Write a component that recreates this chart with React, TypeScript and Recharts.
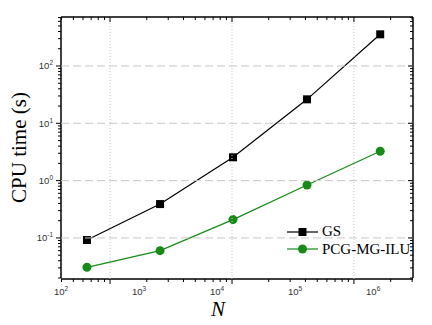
import { LineChart, Line, XAxis, YAxis, Legend, Label } from "recharts";

const nValues = [215, 1860, 16000, 142000, 1230000];
const gsTimes = [0.092, 0.39, 2.55, 26.2, 357];
const pcgTimes = [0.0307, 0.06, 0.209, 0.84, 3.25];

const xLabelTicks = [1e2, 1e3, 1e4, 1e5, 1e6];
const xMarks = [
	400, 500, 600, 700, 800, 900, 1000,
	2000, 3000, 4000, 5000, 6000, 7000, 8000, 9000, 10000,
	20000, 30000, 40000, 50000, 60000, 70000, 80000, 90000, 100000,
	200000, 300000
];
const yMarks = [
	0.02, 0.03, 0.04, 0.05, 0.06, 0.07, 0.08, 0.09, 0.1,
	0.2, 0.3, 0.4, 0.5, 0.6, 0.7, 0.8, 0.9, 1,
	2, 3, 4, 5, 6, 7, 8, 9, 10,
	20, 30, 40, 50, 60, 70, 80, 90, 100,
	200, 300, 400, 500, 600, 700
];

const data = nValues.map((n, i) => ({ n, gs: gsTimes[i], pcg: pcgTimes[i] }));

const series = [
	{ key: "gs", name: "GS", color: "#000000", shape: "square" },
	{ key: "pcg", name: "PCG-MG-ILU", color: "#178a17", shape: "circle" }
];

const W = 432;
const H = 325;
const M = { top: 16, right: 18, bottom: 45, left: 60 };
const PLOT_W = W - M.left - M.right - 2;
const PLOT_H = H - M.top - M.bottom - 3;
const GRID = "#c8c8c8";

const isDecade = (v: number) => Math.abs(Math.log10(v) - Math.round(Math.log10(v))) < 1e-6;
const expOf = (v: number) => Math.round(Math.log10(v));

function Marker({ cx, cy, shape, color }: any) {
	if (shape === "square") return <rect x={cx - 4} y={cy - 4} width={8} height={8} fill={color} />;
	return <circle cx={cx} cy={cy} r={4.5} fill={color} />;
}

function Pow10({ x, y, e, anchor }: any) {
	return (
		<text x={x} y={y} textAnchor={anchor} fontFamily="Liberation Sans" fontSize={9.5} fill="#333">
			10<tspan dy={-4} fontSize={6.5}>{e}</tspan>
		</text>
	);
}

function XLabelTick({ x, y, payload }: any) {
	return <Pow10 x={x} y={y + 17} e={expOf(payload.value)} anchor="middle" />;
}

function XMarkTick({ x, y, payload }: any) {
	if (!isDecade(payload.value)) return <line x1={x} y1={y} x2={x} y2={y + 3} stroke="#000" />;
	return (
		<g>
			<line x1={x} y1={y} x2={x} y2={y - PLOT_H} stroke={GRID} strokeDasharray="1 2" />
			<line x1={x} y1={y} x2={x} y2={y + 5} stroke="#000" />
		</g>
	);
}

function YTick({ x, y, payload }: any) {
	if (!isDecade(payload.value)) return <line x1={x} y1={y} x2={x - 3} y2={y} stroke="#000" />;
	return (
		<g>
			<line x1={x} y1={y} x2={x + PLOT_W} y2={y} stroke={GRID} strokeDasharray="8 4" />
			<line x1={x} y1={y} x2={x - 5} y2={y} stroke="#000" />
			<Pow10 x={x - 8} y={y + 3.5} e={expOf(payload.value)} anchor="end" />
		</g>
	);
}

const mark = (dx: number, dy: number) => ({ x, y, payload }: any) => {
	const len = isDecade(payload.value) ? 5 : 3;
	return <line x1={x} y1={y} x2={x + dx * len} y2={y + dy * len} stroke="#000" />;
};

function LegendBox() {
	return (
		<div style={{ fontFamily: "Liberation Serif", fontSize: 15, color: "#000" }}>
			{series.map((s) => (
				<div key={s.key} style={{ display: "flex", alignItems: "center", height: 17.5 }}>
					<svg width={32} height={12}>
						<line x1={0} y1={6} x2={31} y2={6} stroke={s.color} strokeWidth={1.2} />
						<Marker cx={15.5} cy={6} shape={s.shape} color={s.color} />
					</svg>
					<span style={{ marginLeft: 3 }}>{s.name}</span>
				</div>
			))}
		</div>
	);
}

const frame = { stroke: "#000", strokeWidth: 1.5 };

export default function App() {
	return (
		<div style={{ position: "absolute", left: 0, top: 0, background: "#fff" }}>
			<LineChart width={W} height={H} data={data} margin={M}>
				<XAxis xAxisId="t" dataKey="n" type="number" scale="log" domain={[396, 305000]} allowDataOverflow
					ticks={xMarks} interval={0} height={1} tickSize={0} tickMargin={0}
					tickLine={false} axisLine={frame} tick={XMarkTick} />
				<XAxis xAxisId="n" dataKey="n" type="number" scale="log" domain={[100, Math.pow(10, 6.51)]}
					allowDataOverflow ticks={xLabelTicks} interval={0} height={1} tickSize={0} tickMargin={0}
					tickLine={false} axisLine={false} tick={XLabelTick}>
					<Label content={({ viewBox }: any) => (
						<text x={viewBox.x + viewBox.width / 2 - 19} y={viewBox.y + 38} textAnchor="middle"
							fontFamily="Liberation Serif" fontStyle="italic" fontSize={21}>N</text>
					)} />
				</XAxis>
				<XAxis xAxisId="top" dataKey="n" orientation="top" type="number" scale="log" domain={[396, 305000]} allowDataOverflow
					ticks={xMarks} interval={0} height={1} tickSize={0} tickMargin={0}
					tickLine={false} axisLine={frame} tick={mark(0, 1)} />
				<YAxis yAxisId="y" type="number" scale="log" domain={[0.02, 716]} allowDataOverflow
					ticks={yMarks} interval={0} width={1} tickSize={0} tickMargin={0}
					tickLine={false} axisLine={frame} tick={YTick}>
					<Label value="CPU time (s)" angle={-90} position="left" offset={41}
						style={{ textAnchor: "middle", fontFamily: "Liberation Serif", fontSize: 21, fill: "#000" }} />
				</YAxis>
				<YAxis yAxisId="r" orientation="right" type="number" scale="log" domain={[0.02, 716]} allowDataOverflow
					ticks={yMarks} interval={0} width={1} tickSize={0} tickMargin={0}
					tickLine={false} axisLine={frame} tick={mark(-1, 0)} />

				{/* invisible series so the frame axes get a scale */}
				<Line xAxisId="t" yAxisId="r" dataKey="gs" stroke="none" dot={false} activeDot={false}
					legendType="none" isAnimationActive={false} />
				<Line xAxisId="top" yAxisId="r" dataKey="pcg" stroke="none" dot={false} activeDot={false}
					legendType="none" isAnimationActive={false} />

				{series.map((s) => (
					<Line key={s.key} xAxisId="n" yAxisId="y" dataKey={s.key} name={s.name} type="linear"
						stroke={s.color} strokeWidth={1.2} isAnimationActive={false}
						dot={(p: any) => <Marker key={`${s.key}-${p.index}`} cx={p.cx} cy={p.cy} shape={s.shape} color={s.color} />}
						activeDot={false} />
				))}

				<Legend layout="vertical" align="center" verticalAlign="middle"
					wrapperStyle={{ left: 287, top: 223, width: 145 }} content={() => <LegendBox />} />
			</LineChart>
		</div>
	);
}
